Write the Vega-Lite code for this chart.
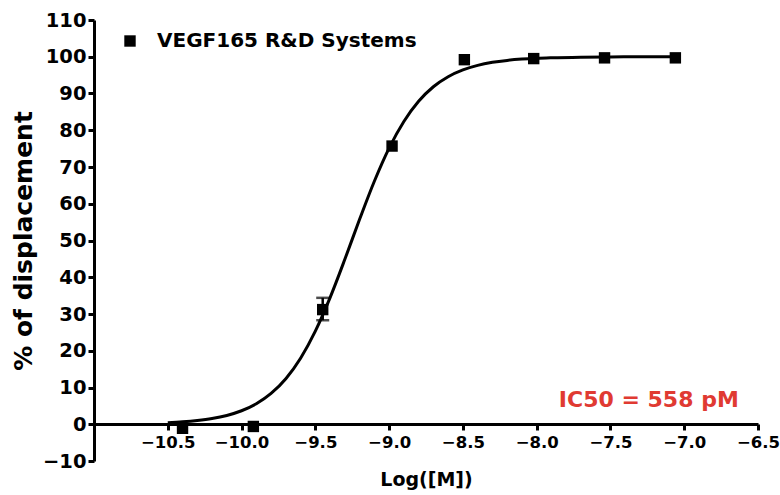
{
  "$schema": "https://vega.github.io/schema/vega-lite/v6.json",
  "width": 664,
  "height": 441,
  "autosize": {"type": "none"},
  "padding": {"left": 94, "top": 20, "right": 22, "bottom": 34},
  "background": "white",
  "config": {
    "view": {"stroke": null},
    "font": "DejaVu Sans",
    "axis": {
      "grid": false,
      "domainColor": "black",
      "domainWidth": 3,
      "tickColor": "black",
      "tickWidth": 3,
      "tickSize": 6,
      "labelColor": "black",
      "labelFont": "DejaVu Sans",
      "labelFontWeight": "bold",
      "titleFont": "DejaVu Sans",
      "titleFontWeight": "bold",
      "titleColor": "black"
    }
  },
  "datasets": {
    "points": [
      {"logM": -10.4, "pct": -1.1, "series": "VEGF165 R&D Systems"},
      {"logM": -9.92, "pct": -0.6, "series": "VEGF165 R&D Systems"},
      {"logM": -9.45, "pct": 31.2, "series": "VEGF165 R&D Systems"},
      {"logM": -8.98, "pct": 75.7, "series": "VEGF165 R&D Systems"},
      {"logM": -8.49, "pct": 99.2, "series": "VEGF165 R&D Systems"},
      {"logM": -8.02, "pct": 99.5, "series": "VEGF165 R&D Systems"},
      {"logM": -7.54, "pct": 99.7, "series": "VEGF165 R&D Systems"},
      {"logM": -7.06, "pct": 99.7, "series": "VEGF165 R&D Systems"}
    ],
    "errors": [
      {"logM": -9.45, "lo": 28.3, "hi": 34.4}
    ],
    "curve": [
      {"logM": -10.5, "pct": 0.43},
      {"logM": -10.4, "pct": 0.66},
      {"logM": -10.3, "pct": 1.02},
      {"logM": -10.2, "pct": 1.56},
      {"logM": -10.1, "pct": 2.4},
      {"logM": -10.0, "pct": 3.67},
      {"logM": -9.9, "pct": 5.57},
      {"logM": -9.8, "pct": 8.38},
      {"logM": -9.7, "pct": 12.4},
      {"logM": -9.6, "pct": 17.98},
      {"logM": -9.5, "pct": 25.35},
      {"logM": -9.4, "pct": 34.47},
      {"logM": -9.3, "pct": 44.88},
      {"logM": -9.2, "pct": 55.77},
      {"logM": -9.1, "pct": 66.13},
      {"logM": -9.0, "pct": 75.15},
      {"logM": -8.9, "pct": 82.4},
      {"logM": -8.8, "pct": 87.89},
      {"logM": -8.7, "pct": 91.83},
      {"logM": -8.6, "pct": 94.57},
      {"logM": -8.5, "pct": 96.42},
      {"logM": -8.4, "pct": 97.66},
      {"logM": -8.3, "pct": 98.48},
      {"logM": -8.2, "pct": 99.01},
      {"logM": -8.1, "pct": 99.36},
      {"logM": -8.0, "pct": 99.59},
      {"logM": -7.9, "pct": 99.73},
      {"logM": -7.7, "pct": 99.89},
      {"logM": -7.5, "pct": 99.95},
      {"logM": -7.3, "pct": 99.98},
      {"logM": -7.05, "pct": 99.99}
    ],
    "note": [
      {"label": "IC50 = 558 pM", "logM": -7.24, "pct": 6.5}
    ]
  },
  "encoding": {
    "x": {
      "field": "logM",
      "type": "quantitative",
      "scale": {"domain": [-11, -6.5], "nice": false, "zero": false},
      "axis": {
        "title": "Log([M])",
        "titleFontSize": 19,
        "titlePadding": 20,
        "labelFontSize": 16.5,
        "labelPadding": 4,
        "offset": -37,
        "values": [-10.5, -10, -9.5, -9, -8.5, -8, -7.5, -7, -6.5],
        "format": ".1f",
        "labelFlush": false
      }
    },
    "y": {
      "field": "pct",
      "type": "quantitative",
      "scale": {"domain": [-10, 110], "nice": false, "zero": false},
      "axis": {
        "title": "% of displacement",
        "titleFontSize": 25,
        "titlePadding": 6,
        "labelFontSize": 19.5,
        "labelPadding": 2,
        "values": [-10, 0, 10, 20, 30, 40, 50, 60, 70, 80, 90, 100, 110],
        "labelFlush": false
      }
    }
  },
  "layer": [
    {
      "data": {"name": "curve"},
      "mark": {"type": "line", "color": "black", "strokeWidth": 3, "interpolate": "monotone"}
    },
    {
      "data": {"name": "errors"},
      "mark": {"type": "rule", "color": "black", "strokeWidth": 2.5},
      "encoding": {
        "y": {"field": "lo", "type": "quantitative"},
        "y2": {"field": "hi"}
      }
    },
    {
      "data": {"name": "errors"},
      "mark": {"type": "tick", "color": "black", "orient": "horizontal", "size": 13, "thickness": 2.5},
      "encoding": {"y": {"field": "lo", "type": "quantitative"}}
    },
    {
      "data": {"name": "errors"},
      "mark": {"type": "tick", "color": "black", "orient": "horizontal", "size": 13, "thickness": 2.5},
      "encoding": {"y": {"field": "hi", "type": "quantitative"}}
    },
    {
      "data": {"name": "points"},
      "mark": {"type": "point", "filled": true, "color": "black", "opacity": 1, "size": 130},
      "encoding": {
        "shape": {
          "field": "series",
          "type": "nominal",
          "scale": {"range": ["square"]},
          "legend": {
            "title": null,
            "orient": "none",
            "legendX": 26,
            "legendY": 11,
            "padding": 0,
            "symbolSize": 130,
            "symbolFillColor": "black",
            "symbolStrokeColor": "black",
            "labelFontSize": 20,
            "labelFont": "DejaVu Sans",
            "labelFontWeight": "bold",
            "labelColor": "black",
            "labelOffset": 17,
            "labelLimit": 400
          }
        }
      }
    },
    {
      "data": {"name": "note"},
      "mark": {"type": "text", "fill": "#e03a32", "fontSize": 22, "fontWeight": "bold", "font": "DejaVu Sans", "align": "center", "baseline": "middle"},
      "encoding": {
        "text": {"field": "label", "type": "nominal"}
      }
    }
  ]
}
